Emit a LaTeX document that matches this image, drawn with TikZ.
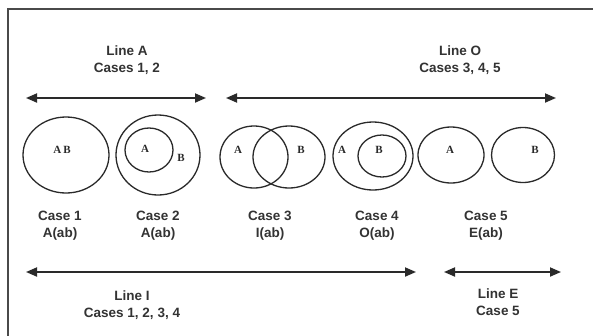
\documentclass[tikz,border=0pt]{standalone}
\usepackage{fontspec}
\setmainfont{Liberation Sans}
\newfontfamily\serifb{Liberation Serif}
\usetikzlibrary{shapes.geometric,arrows.meta}
\definecolor{ink}{HTML}{2A2A2A}
\definecolor{txt}{HTML}{333333}
\tikzset{
  venn/.style={draw=ink, line width=1.3pt, ellipse, inner sep=0pt},
  lbl/.style={font=\serifb\bfseries\fontsize{11}{12}\selectfont, text=ink, inner sep=0pt},
  caption/.style={font=\bfseries\fontsize{13.5}{17}\selectfont, text=txt, align=center, inner sep=0pt},
  dbl/.style={draw=ink, line width=1.8pt, {Triangle[length=11pt,width=9pt]}-{Triangle[length=11pt,width=9pt]}},
}
\begin{document}
\begin{tikzpicture}[x=1pt,y=-1pt]
\useasboundingbox (0,0) rectangle (593,335);
\fill[white] (0,0) rectangle (593,335);
% frame
\draw[draw=ink!85, line width=2pt] (8,336) -- (8,9) -- (594,9);

% titles
\node[caption] (tA) at (127,60) {Line A\\Cases 1, 2};
\node[caption] (tO) at (460,60) {Line O\\Cases 3, 4, 5};

% top arrows
\coordinate (a1) at (26,98); \coordinate (a2) at (206,98);
\coordinate (o1) at (226,98); \coordinate (o2) at (556,98);
\draw[dbl] (a1) -- (a2);
\draw[dbl] (o1) -- (o2);

% Case 1
\node[venn, minimum width=86pt, minimum height=76pt] (c1) at (66,155) {};
\node[lbl] (c1ab) at (62,150) {A\hspace{2pt}B};
% Case 2
\node[venn, minimum width=84pt, minimum height=80pt] (c2o) at (158,155) {};
\node[venn, minimum width=48pt, minimum height=44pt] (c2i) at (149,150) {};
\node[lbl] (c2a) at (145,149) {A};
\node[lbl] (c2b) at (181,158) {B};
% Case 3
\node[venn, minimum width=68pt, minimum height=62pt] (c3a) at (254,157) {};
\node[venn, minimum width=72pt, minimum height=62pt] (c3b) at (289,157) {};
\node[lbl] (c3la) at (238,150) {A};
\node[lbl] (c3lb) at (301,150) {B};
% Case 4
\node[venn, minimum width=80pt, minimum height=68pt] (c4o) at (373,156) {};
\node[venn, minimum width=48pt, minimum height=42pt] (c4i) at (382,156) {};
\node[lbl] (c4a) at (342,150) {A};
\node[lbl] (c4b) at (379,150) {B};
% Case 5
\node[venn, minimum width=66pt, minimum height=56pt] (c5a) at (451,155) {};
\node[venn, minimum width=63pt, minimum height=55pt] (c5b) at (523,155) {};
\node[lbl] (c5la) at (450,150) {A};
\node[lbl] (c5lb) at (535,150) {B};

% case labels
\node[caption] (k1) at (60,226) {Case 1\\A(ab)};
\node[caption] (k2) at (158,226) {Case 2\\A(ab)};
\node[caption] (k3) at (270,226) {Case 3\\I(ab)};
\node[caption] (k4) at (377,226) {Case 4\\O(ab)};
\node[caption] (k5) at (486,226) {Case 5\\E(ab)};

% bottom arrows
\coordinate (i1) at (26,272); \coordinate (i2) at (416,272);
\coordinate (e1) at (444,272); \coordinate (e2) at (561,272);
\draw[dbl] (i1) -- (i2);
\draw[dbl] (e1) -- (e2);

\node[caption] (tI) at (132,305) {Line I\\Cases 1, 2, 3, 4};
\node[caption] (tE) at (498,302) {Line E\\Case 5};
\end{tikzpicture}
\end{document}
